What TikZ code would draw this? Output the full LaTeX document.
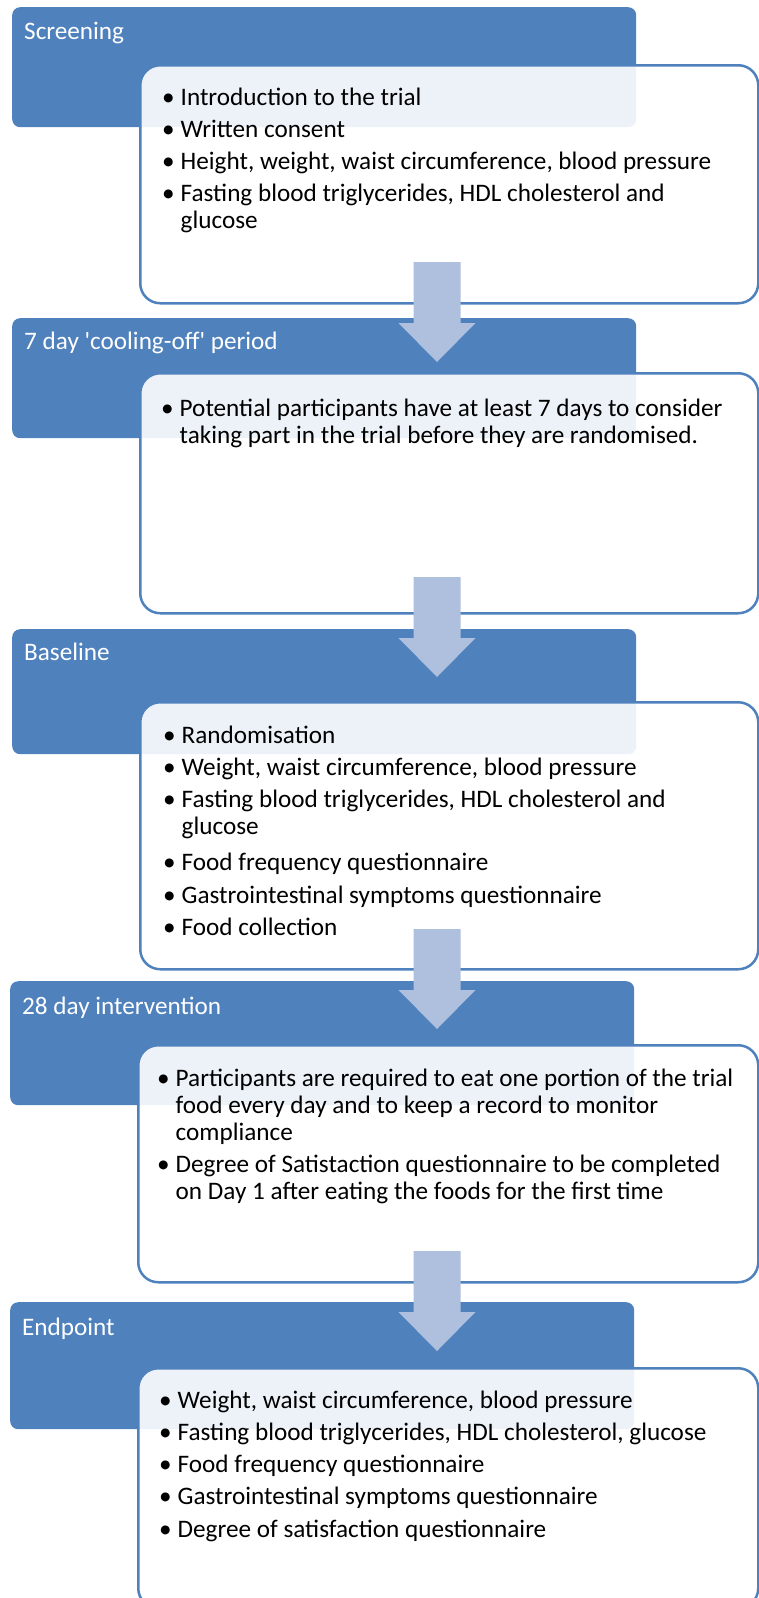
\documentclass[tikz,border=0pt]{standalone}
\usepackage{fontspec}
\newfontfamily\flowfont{Carlito}
\definecolor{stageblue}{RGB}{79,129,189}
\definecolor{arrowblue}{RGB}{175,192,222}
\newcommand{\itm}{\makebox[18.5pt][l]{\textbullet}}
\newcommand{\cnt}{\hspace*{18.5pt}}
\newcommand{\points}[1]{\begin{tabular}[t]{@{}l@{}}#1\end{tabular}}
\tikzset{
  stage/.style={fill=stageblue, rounded corners=8pt, anchor=north west, inner sep=0pt},
  detail/.style={draw=stageblue, line width=2.5pt, fill=white, fill opacity=0.9,
                 rounded corners=20pt, anchor=north west, inner sep=0pt},
  stagetitle/.style={anchor=base west, text=white, inner sep=0pt,
                     font=\flowfont\fontsize{25.2}{27}\selectfont},
  detailtext/.style={anchor=base west, inner sep=0pt,
                     font=\flowfont\fontsize{25.2}{27}\selectfont}
}
\begin{document}
\begin{tikzpicture}[x=1pt, y=-1pt]
        \useasboundingbox (0,0) rectangle (759,1598);

        % ~~~~ Screening ~~~~%
        \node[stage, minimum width=624pt, minimum height=120pt] (s1) at (12,7) {};
        \node[stagetitle] (t1) at (24,39) {Screening};
        \node[detail, minimum width=618pt, minimum height=238pt] (d1) at (139,64) {};
        \node[detailtext] (l1) at (162,105) {\points{\itm Introduction to the trial\\[5.3pt]
            \itm Written consent\\[5.3pt]
            \itm Height, weight, waist circumference, blood pressure\\[5.3pt]
            \itm Fasting blood triglycerides, HDL cholesterol and\\
            \cnt glucose}};

        % ~~~~ Cooling-off ~~~~%
        \node[stage, minimum width=624pt, minimum height=120pt] (s2) at (12,318) {};
        \node[stagetitle] (t2) at (24,349) {7 day 'cooling-off' period};
        \node[detail, minimum width=618pt, minimum height=240pt] (d2) at (139,372) {};
        \node[detailtext] (l2) at (161,416) {\points{\itm Potential participants have at least 7 days to consider\\
            \cnt taking part in the trial before they are randomised.}};

        % ~~~~ Baseline ~~~~%
        \node[stage, minimum width=624pt, minimum height=125pt] (s3) at (12,629) {};
        \node[stagetitle] (t3) at (24,660) {Baseline};
        \node[detail, minimum width=618pt, minimum height=267pt] (d3) at (139,701) {};
        \node[detailtext] (l3) at (163,743) {\points{\itm Randomisation\\[5.3pt]
            \itm Weight, waist circumference, blood pressure\\[5.3pt]
            \itm Fasting blood triglycerides, HDL cholesterol and\\
            \cnt glucose\\[9.3pt]
            \itm Food frequency questionnaire\\[5.3pt]
            \itm Gastrointestinal symptoms questionnaire\\[5.3pt]
            \itm Food collection}};

        % ~~~~ Intervention ~~~~%
        \node[stage, minimum width=624pt, minimum height=124pt] (s4) at (10,981) {};
        \node[stagetitle] (t4) at (22,1014) {28 day intervention};
        \node[detail, minimum width=620pt, minimum height=237pt] (d4) at (137,1044) {};
        \node[detailtext] (l4) at (157,1086) {\points{\itm Participants are required to eat one portion of the trial\\
            \cnt food every day and to keep a record to monitor\\
            \cnt compliance\\[5.3pt]
            \itm Degree of Satistaction questionnaire to be completed\\
            \cnt on Day 1 after eating the foods for the first time}};

        % ~~~~ Endpoint ~~~~%
        \node[stage, minimum width=624pt, minimum height=127pt] (s5) at (10,1302) {};
        \node[stagetitle] (t5) at (22,1335) {Endpoint};
        \node[detail, minimum width=620pt, minimum height=240pt] (d5) at (137,1367) {};
        \node[detailtext] (l5) at (159,1408) {\points{\itm Weight, waist circumference, blood pressure\\[5.3pt]
            \itm Fasting blood triglycerides, HDL cholesterol, glucose\\[5.3pt]
            \itm Food frequency questionnaire\\[5.3pt]
            \itm Gastrointestinal symptoms questionnaire\\[5.3pt]
            \itm Degree of satisfaction questionnaire}};

        % ~~~~ Flechas entre etapas ~~~~%
        \foreach \top/\name in {262/a1, 577/a2, 929/a3, 1251/a4}{
            \coordinate (\name) at (437,\top);
            \fill[arrowblue] (\name) ++(-23.5,0) -- ++(47,0) -- ++(0,61) -- ++(15,0)
                -- ++(-38.5,39) -- ++(-38.5,-39) -- ++(15,0) -- cycle;
        }
    \end{tikzpicture}
\end{document}
